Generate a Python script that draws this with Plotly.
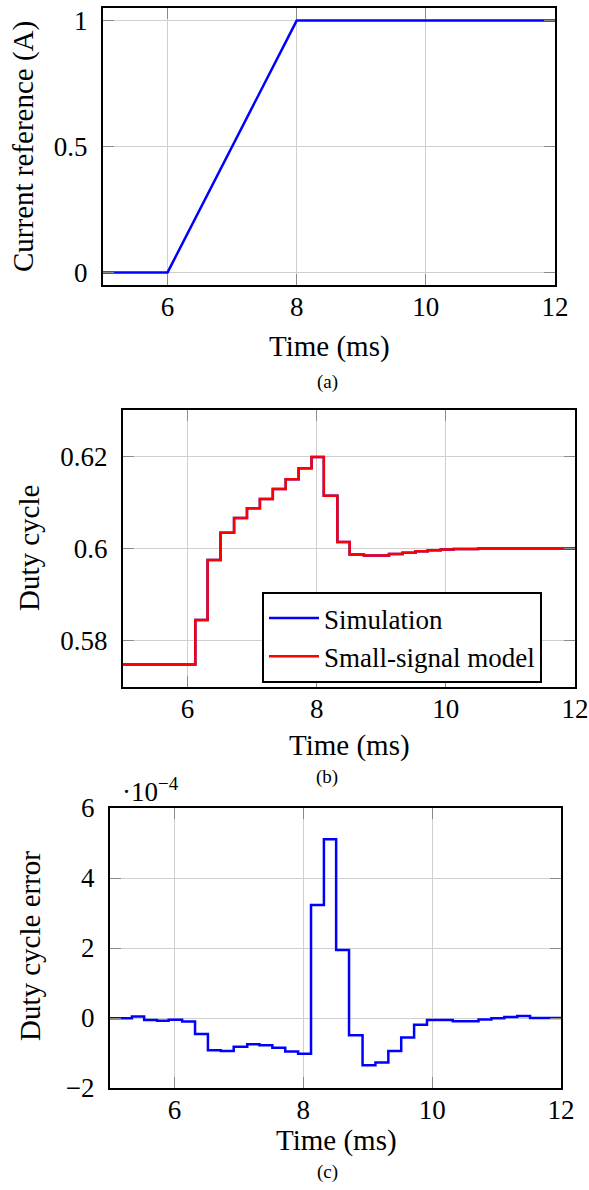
import plotly.graph_objects as go

# ---------------- data ----------------
# (a) current reference
t_ref = [5.0, 6.0, 8.0, 12.0]
i_ref = [0.0, 0.0, 1.0, 1.0]

# (b) duty cycle (step starts, held until next time)
t_duty = [5.0, 6.12, 6.31, 6.51, 6.72, 6.92, 7.12, 7.32, 7.52, 7.72, 7.92, 8.11,
          8.32, 8.51, 8.73, 8.92, 9.12, 9.33, 9.53, 9.72, 9.92, 10.12, 10.5, 12.0]
duty_sim = [0.5749, 0.5845, 0.5975, 0.6034, 0.6066, 0.6087, 0.6107, 0.6129, 0.6150,
            0.6174, 0.6198, 0.6114, 0.6014, 0.5987, 0.5985, 0.5985, 0.5988, 0.5991,
            0.5994, 0.5996, 0.5998, 0.5999, 0.6000, 0.6000]
duty_model = [0.5749, 0.5845, 0.5975, 0.6034, 0.6066, 0.6087, 0.6107, 0.6129, 0.6150,
              0.6174, 0.6198, 0.6114, 0.6014, 0.5987, 0.5985, 0.5985, 0.5988, 0.5991,
              0.5994, 0.5996, 0.5998, 0.5999, 0.6000, 0.6000]

# (c) duty cycle error (x 1e-4)
t_err = [5.0, 5.34, 5.53, 5.73, 5.91, 6.12, 6.32, 6.52, 6.72, 6.92, 7.13, 7.32, 7.52,
         7.72, 7.92, 8.12, 8.32, 8.51, 8.71, 8.92, 9.12, 9.32, 9.52, 9.72, 9.92,
         10.32, 10.72, 10.92, 11.12, 11.32, 11.52, 12.0]
err = [-0.01, 0.04, -0.06, -0.08, -0.05, -0.10, -0.46, -0.92, -0.94, -0.82, -0.75,
       -0.78, -0.85, -0.96, -1.02, 3.23, 5.11, 1.94, -0.49, -1.35, -1.27, -0.94,
       -0.56, -0.19, -0.06, -0.09, -0.04, -0.01, 0.03, 0.06, 0.00, 0.02]

x_ticks = [6, 8, 10, 12]

# ---------------- figure ----------------
W, H = 589, 1190
FONT = "Liberation Serif, Times New Roman, Tinos, Nimbus Roman, DejaVu Serif, serif"
FS = 27      # tick labels
FT = 29      # axis titles
FL = 27      # legend

fig = go.Figure()
fig.add_trace(go.Scatter(x=t_ref, y=i_ref, mode="lines", line=dict(color="#0000ff", width=2.5),
                         xaxis="x", yaxis="y", showlegend=False))
fig.add_trace(go.Scatter(x=t_duty, y=duty_sim, mode="lines", line=dict(color="#0000ff", width=2.5, shape="hv"),
                         xaxis="x2", yaxis="y2", name="Simulation"))
fig.add_trace(go.Scatter(x=t_duty, y=duty_model, mode="lines", line=dict(color="#ff0000", width=2.5, shape="hv"),
                         xaxis="x2", yaxis="y2", name="Small-signal model"))
fig.add_trace(go.Scatter(x=t_err, y=err, mode="lines", line=dict(color="#0000ff", width=2.5, shape="hv"),
                         xaxis="x3", yaxis="y3", showlegend=False))


def px_dom_x(a, b):
    return [a / W, b / W]


def px_dom_y(top, bottom):
    return [1 - bottom / H, 1 - top / H]


def ax_common(standoff):
    return dict(showline=True, linecolor="black", linewidth=2.4, mirror="ticks",
                showgrid=True, gridcolor="#cfcfcf", gridwidth=1,
                ticks="inside", ticklen=11, tickcolor="#8a8a8a", tickwidth=1,
                zeroline=False, tickfont=dict(family=FONT, size=FS, color="black"),
                ticklabelstandoff=standoff, automargin=False)


boxes = {
    "1": (103, 555, 8, 285),
    "2": (123, 575, 410, 687),
    "3": (110, 561, 808, 1088),
}

layout = dict(width=W, height=H, margin=dict(l=0, r=0, t=0, b=0, autoexpand=False),
              paper_bgcolor="white", plot_bgcolor="white",
              font=dict(family=FONT, size=FS, color="black"))

yranges = {"1": [-0.05, 1.05], "2": [0.57, 0.63], "3": [-2, 6]}
yticks = {"1": ([0, 0.5, 1], ["0", "0.5", "1"]),
          "2": ([0.58, 0.60, 0.62], ["0.58", "0.6", "0.62"]),
          "3": ([-2, 0, 2, 4, 6], ["−2", "0", "2", "4", "6"])}

for k, (l, r, t, b) in boxes.items():
    xa = "xaxis" if k == "1" else "xaxis" + k
    ya = "yaxis" if k == "1" else "yaxis" + k
    yref = "y" if k == "1" else "y" + k
    xref = "x" if k == "1" else "x" + k
    xd = ax_common(-4)
    xd.update(domain=px_dom_x(l, r), range=[5, 12], tickvals=x_ticks,
              ticktext=[str(v) for v in x_ticks], anchor=yref)
    yd = ax_common(8)
    yd.update(domain=px_dom_y(t, b), range=yranges[k], tickvals=yticks[k][0],
              ticktext=yticks[k][1], anchor=xref)
    layout[xa] = xd
    layout[ya] = yd

fig.update_layout(**layout)

fig.update_layout(legend=dict(x=262 / W, y=1 - 592 / H, xanchor="left", yanchor="top",
                              bgcolor="white", bordercolor="black", borderwidth=2,
                              font=dict(family=FONT, size=FL), tracegroupgap=0,
                              itemwidth=50))


def ann(text, x, y, size=FT, angle=0, xanchor="center"):
    fig.add_annotation(text=text, x=x / W, y=1 - y / H, xref="paper", yref="paper",
                       showarrow=False, font=dict(family=FONT, size=size, color="black"),
                       textangle=angle, xanchor=xanchor, yanchor="middle")


ann("Current reference (A)", 23, 147, angle=-90)
ann("Time (ms)", 329, 346)
ann("(a)", 327, 382, size=19)

ann("Duty cycle", 29, 548, angle=-90)
ann("Time (ms)", 349, 745)
ann("(b)", 327, 777, size=19)

ann("Duty cycle error", 30, 946, angle=-90)
ann("Time (ms)", 336, 1140)
ann("(c)", 327, 1172, size=19)
ann("·10<sup>−4</sup>", 120, 790, size=FS, xanchor="left")

fig.write_html("out.html", config={"displayModeBar": False},
               post_script="document.body.style.margin='0px';")
